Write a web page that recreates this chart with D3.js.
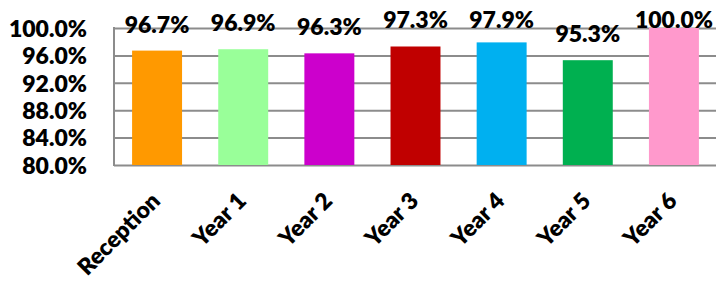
<!DOCTYPE html>
<html>
<head>
<meta charset="utf-8">
<script src="https://cdn.jsdelivr.net/npm/d3@7"></script>
<style>
  body { margin: 0; background: #fff; }
  text { font-family: Lato, "Open Sans", sans-serif; font-weight: 800; fill: #000; }
</style>
</head>
<body>
<script>
//============================================================
// Data
var categories = ["Reception", "Year 1", "Year 2", "Year 3", "Year 4", "Year 5", "Year 6"];
var values = [96.7, 96.9, 96.3, 97.3, 97.9, 95.3, 100.0];
var colours = ["#FF9900", "#99FF99", "#CC00CC", "#C00000", "#00B0F0", "#00B050", "#FF99CC"];
var yTicks = [80, 84, 88, 92, 96, 100];

//============================================================
// Set up SVG
var width = 716, height = 282;
var plotLeft = 114, plotRight = 717, plotTop = 28, plotBottom = 165;

var svg = d3.select("body")
  .append("svg")
  .attr("width", width)
  .attr("height", height);

var x = d3.scaleBand()
  .domain(categories)
  .range([plotLeft, plotRight])
  .paddingInner(0.42)
  .paddingOuter(0.21);

var y = d3.scaleLinear()
  .domain([80, 100])
  .range([plotBottom, plotTop]);

//============================================================
// Gridlines + y axis labels
var yAxis = d3.axisLeft(y)
  .tickValues(yTicks)
  .tickSize(plotLeft - plotRight)
  .tickPadding(27)
  .tickFormat(function (d) { return d.toFixed(1) + "%"; });

var gy = svg.append("g")
  .attr("transform", "translate(" + plotLeft + ",0)")
  .call(yAxis);
gy.select(".domain").remove();
gy.selectAll(".tick line")
  .attr("stroke", "#8c8c8c")
  .attr("stroke-width", 2);
gy.selectAll(".tick text")
  .attr("x", -27)
  .style("font-size", "23px")
  .attr("dy", "0.36em");

// left axis line
svg.append("line")
  .attr("x1", plotLeft).attr("x2", plotLeft)
  .attr("y1", y(100) - 1).attr("y2", y(80) + 1)
  .attr("stroke", "#8c8c8c")
  .attr("stroke-width", 2);

//============================================================
// Bars
svg.selectAll("rect.bar")
  .data(values)
  .enter()
  .append("rect")
  .attr("class", "bar")
  .attr("x", function (d, i) { return x(categories[i]); })
  .attr("y", function (d) { return y(d); })
  .attr("width", x.bandwidth())
  .attr("height", function (d) { return y(80) - y(d); })
  .style("fill", function (d, i) { return colours[i]; });

// value labels (kept inside chart top like Excel)
svg.selectAll("text.val")
  .data(values)
  .enter()
  .append("text")
  .attr("class", "val")
  .attr("x", function (d, i) { return x(categories[i]) + x.bandwidth() / 2; })
  .attr("y", function (d) { return Math.max(y(d) - 18, plotTop); })
  .attr("text-anchor", "middle")
  .style("font-size", "23px")
  .text(function (d) { return d.toFixed(1) + "%"; });

//============================================================
// Category labels, rotated
svg.selectAll("text.cat")
  .data(categories)
  .enter()
  .append("text")
  .attr("class", "cat")
  .attr("text-anchor", "end")
  .attr("transform", function (d) {
    return "translate(" + (x(d) + x.bandwidth() / 2 - 7) + ",191) rotate(-45)";
  })
  .attr("dy", "0.7em")
  .style("font-size", "23px")
  .text(function (d) { return d; });
</script>
</body>
</html>
